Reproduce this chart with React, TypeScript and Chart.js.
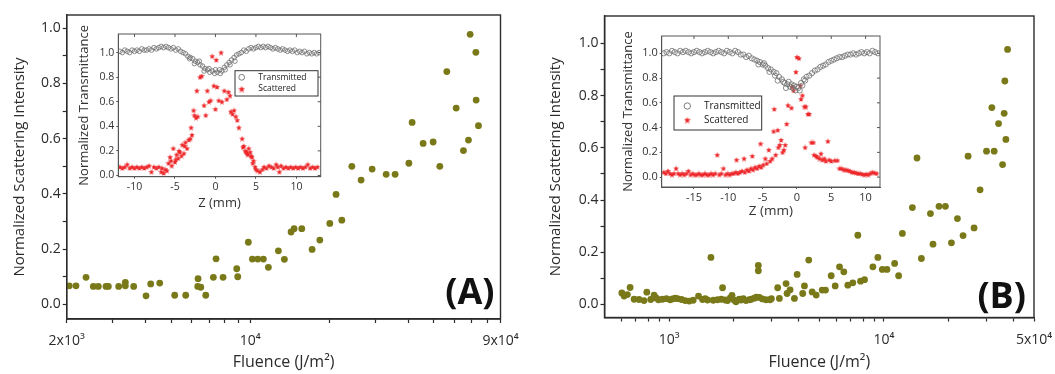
import React, { useEffect, useRef } from 'react';
import { Chart, registerables } from 'chart.js';

Chart.register(...registerables);

const FONT = '"Open Sans", "Liberation Sans", "DejaVu Sans", sans-serif';
const INK = '#2b2b2b';
const OLIVE = '#79791a';
const RED = '#ec2427';
const RING = '#6e6e6e';

// ---------------- Panel A : main scatter ----------------
const aFluence = [2046, 2170, 2370, 2526, 2640, 2824, 2882, 3156, 3346, 3346, 3600, 4012, 4180, 4524, 5160, 5684, 6334, 6316, 6486, 6776, 7244, 7418, 7888, 8894, 8972, 9846, 10200, 10694, 11234, 11740, 12818, 13510, 14328, 14712, 15736, 17228, 18436, 20124, 21260, 22360, 24420, 26484, 29180, 33000, 35700, 40280, 41440, 45640, 49840, 52840, 56200, 61000, 65020, 67940, 68960, 72500, 72680, 74180];
const aIntensity = [0.067, 0.067, 0.098, 0.065, 0.065, 0.065, 0.065, 0.065, 0.080, 0.067, 0.065, 0.031, 0.074, 0.077, 0.033, 0.033, 0.093, 0.065, 0.062, 0.033, 0.098, 0.165, 0.098, 0.129, 0.100, 0.225, 0.164, 0.164, 0.164, 0.134, 0.194, 0.163, 0.262, 0.274, 0.274, 0.199, 0.233, 0.293, 0.398, 0.305, 0.500, 0.450, 0.490, 0.471, 0.471, 0.511, 0.659, 0.583, 0.588, 0.500, 0.843, 0.711, 0.557, 0.595, 0.978, 0.913, 0.740, 0.647];
const aTickValues = [2000, 3000, 4000, 5000, 6000, 7000, 8000, 9000, 10000, 20000, 30000, 40000, 50000, 60000, 70000, 80000, 90000];
const aTickLabels = ['2x10³', '', '', '', '', '', '', '', '10⁴', '', '', '', '', '', '', '', '9x10⁴'];

// ---------------- Panel A : inset (z-scan) ----------------
const aInsetTransmitted: [number, number][] = [
  [-11.8, 1.01], [-11.5, 1.00], [-11.2, 1.02], [-10.9, 1.01], [-10.6, 1.00], [-10.3, 1.02], [-10.0, 1.01], [-9.7, 1.02], [-9.4, 1.01], [-9.1, 1.03],
  [-8.8, 1.02], [-8.5, 1.02], [-8.2, 1.03], [-7.9, 1.02], [-7.6, 1.04], [-7.3, 1.03], [-7.0, 1.04], [-6.7, 1.05], [-6.4, 1.04], [-6.1, 1.05],
  [-5.8, 1.04], [-5.5, 1.03], [-5.2, 1.04], [-4.9, 1.02], [-4.6, 1.03], [-4.3, 1.01], [-4.0, 1.00], [-3.7, 0.99], [-3.4, 0.97], [-3.1, 0.96],
  [-2.8, 0.95], [-2.5, 0.93], [-2.2, 0.92], [-1.9, 0.90], [-1.6, 0.89], [-1.3, 0.87], [-1.0, 0.86], [-0.7, 0.84], [-0.4, 0.85], [-0.1, 0.83],
  [0.2, 0.84], [0.5, 0.86], [0.8, 0.85], [1.1, 0.88], [1.4, 0.90], [1.7, 0.92], [2.0, 0.94], [2.3, 0.96], [2.6, 0.98], [2.9, 0.99],
  [3.2, 1.00], [3.5, 1.02], [3.8, 1.01], [4.1, 1.03], [4.4, 1.04], [4.7, 1.03], [5.0, 1.04], [5.3, 1.05], [5.6, 1.04], [5.9, 1.05],
  [6.2, 1.04], [6.5, 1.05], [6.8, 1.04], [7.1, 1.03], [7.4, 1.04], [7.7, 1.03], [8.0, 1.02], [8.3, 1.03], [8.6, 1.02], [8.9, 1.01],
  [9.2, 1.02], [9.5, 1.01], [9.8, 1.02], [10.1, 1.00], [10.4, 1.01], [10.7, 1.00], [11.0, 1.01], [11.3, 0.99], [11.6, 1.00], [11.9, 0.99],
  [12.2, 1.00], [12.5, 0.99], [12.8, 1.00],
  [-3.2, 0.95], [-2.6, 0.91], [-2.0, 0.93], [-1.4, 0.85], [-0.8, 0.87], [0.0, 0.86], [0.6, 0.83], [1.2, 0.86], [1.8, 0.90], [2.4, 0.93],
];
const aInsetScattered: [number, number][] = [
  [-11.8, 0.07], [-11.5, 0.06], [-11.2, 0.07], [-10.9, 0.09], [-10.6, 0.06], [-10.3, 0.07], [-10.0, 0.06], [-9.7, 0.07], [-9.4, 0.06], [-9.1, 0.07],
  [-8.8, 0.06], [-8.5, 0.07], [-8.2, 0.08], [-7.9, 0.03], [-7.6, 0.07], [-7.3, 0.06], [-7.0, 0.07], [-6.7, 0.03], [-6.4, 0.02], [-6.2, 0.05],
  [-6.0, 0.04], [-5.8, 0.10], [-5.6, 0.15], [-5.4, 0.08], [-5.2, 0.22], [-5.0, 0.11], [-4.8, 0.17], [-4.6, 0.14], [-4.4, 0.19], [-4.2, 0.16],
  [-4.1, 0.25], [-3.9, 0.18], [-3.7, 0.27], [-3.5, 0.22], [-3.3, 0.29], [-3.1, 0.30], [-3.0, 0.39], [-2.7, 0.53], [-2.6, 0.49], [-2.4, 0.47],
  [-2.2, 0.48], [-2.3, 0.69], [-1.9, 0.80], [-1.7, 0.81], [-1.4, 0.57], [-1.2, 0.49], [-1.0, 0.69], [-0.8, 0.60], [-0.6, 0.61], [-0.4, 0.97],
  [-0.2, 0.73], [0.0, 0.54], [0.1, 0.94], [0.2, 0.72], [0.4, 0.61], [0.7, 1.00], [0.8, 0.60], [1.1, 0.69], [1.4, 0.62], [1.6, 0.68],
  [1.8, 0.65], [2.1, 0.50], [2.3, 0.53], [2.5, 0.48], [2.9, 0.39], [3.3, 0.30], [3.4, 0.23], [3.7, 0.20], [3.9, 0.18], [4.1, 0.22],
  [4.3, 0.19], [4.5, 0.15], [4.7, 0.12], [4.9, 0.07], [5.2, 0.04], [5.5, 0.03], [5.8, 0.05], [6.0, 0.07], [6.3, 0.06], [6.6, 0.08],
  [6.9, 0.07], [7.2, 0.06], [7.5, 0.09], [7.7, 0.07], [7.9, 0.03], [8.1, 0.08], [8.4, 0.06], [8.7, 0.07], [9.0, 0.06], [9.3, 0.07],
  [9.6, 0.06], [9.9, 0.07], [10.2, 0.06], [10.5, 0.07], [10.8, 0.06], [11.1, 0.07], [11.4, 0.09], [11.7, 0.06], [12.0, 0.07], [12.3, 0.06],
  [12.6, 0.07],
  [-5.5, 0.12], [-4.9, 0.13], [-4.5, 0.20], [-3.8, 0.24], [-2.9, 0.33], [1.9, 0.52], [2.7, 0.45], [3.5, 0.24], [3.8, 0.19], [4.0, 0.17],
  [4.4, 0.16], [4.6, 0.10], [-6.6, 0.06], [5.0, 0.05],
];
const aInsetXTicks = [-10, -5, 0, 5, 10];

// ---------------- Panel B : main scatter ----------------
const bFluence = [602, 617, 639, 658, 687, 724, 764, 787, 821, 851, 870, 892, 930, 971, 1011, 1036, 1067, 1093, 1141, 1188, 1240, 1294, 1370, 1430, 1472, 1509, 1565, 1604, 1680, 1748, 1773, 1825, 1871, 1926, 1962, 2011, 2048, 2122, 2161, 2215, 2280, 2362, 2413, 2492, 2547, 2602, 2602, 2630, 2716, 2826, 2951, 2992, 3202, 3261, 3504, 3541, 3657, 3831, 3944, 4188, 4266, 4467, 4634, 4838, 5160, 5346, 5683, 5932, 6214, 6507, 6792, 7166, 7562, 7785, 8126, 8887, 9376, 9829, 10330, 11220, 11710, 12190, 13570, 14260, 14950, 16470, 16930, 18060, 19340, 20630, 22000, 23370, 24660, 26300, 28050, 30050, 32620, 31820, 34190, 35690, 36310, 36580, 36980, 37660];
const bIntensity = [0.044, 0.032, 0.038, 0.065, 0.020, 0.019, 0.015, 0.047, 0.019, 0.036, 0.025, 0.018, 0.020, 0.022, 0.018, 0.021, 0.024, 0.022, 0.019, 0.015, 0.013, 0.016, 0.032, 0.019, 0.022, 0.017, 0.180, 0.016, 0.018, 0.020, 0.064, 0.017, 0.015, 0.025, 0.035, 0.016, 0.010, 0.020, 0.017, 0.022, 0.015, 0.018, 0.020, 0.024, 0.028, 0.150, 0.129, 0.027, 0.021, 0.018, 0.018, 0.022, 0.064, 0.023, 0.080, 0.042, 0.056, 0.023, 0.115, 0.042, 0.071, 0.170, 0.048, 0.036, 0.055, 0.055, 0.110, 0.071, 0.144, 0.125, 0.074, 0.083, 0.265, 0.089, 0.095, 0.144, 0.180, 0.134, 0.134, 0.157, 0.110, 0.272, 0.371, 0.561, 0.176, 0.348, 0.231, 0.376, 0.376, 0.236, 0.329, 0.264, 0.568, 0.293, 0.439, 0.587, 0.587, 0.754, 0.693, 0.536, 0.732, 0.856, 0.632, 0.977];
const bTickValues = [600, 700, 800, 900, 1000, 2000, 3000, 4000, 5000, 6000, 7000, 8000, 9000, 10000, 20000, 30000, 40000, 50000];
const bTickLabels = ['', '', '', '', '10³', '', '', '', '', '', '', '', '', '10⁴', '', '', '', '5x10⁴'];

// ---------------- Panel B : inset (z-scan) ----------------
const bInsetTransmitted: [number, number][] = [
  [-19.4, 1.00], [-19.0, 1.01], [-18.6, 1.00], [-18.2, 1.02], [-17.8, 1.01], [-17.4, 1.00], [-17.0, 1.02], [-16.6, 1.01], [-16.2, 1.02], [-15.8, 1.01],
  [-15.4, 1.00], [-15.0, 1.01], [-14.6, 1.02], [-14.2, 1.01], [-13.8, 1.00], [-13.4, 1.01], [-13.0, 1.02], [-12.6, 1.01], [-12.2, 1.00], [-11.8, 1.01],
  [-11.4, 1.02], [-11.0, 1.01], [-10.6, 1.00], [-10.2, 1.02], [-9.8, 1.01], [-9.4, 1.00], [-9.0, 1.02], [-8.6, 1.01], [-8.2, 0.99], [-7.8, 0.99],
  [-7.4, 0.97], [-7.0, 0.98], [-6.6, 0.96], [-6.2, 0.95], [-5.8, 0.94], [-5.4, 0.93], [-5.0, 0.91], [-4.6, 0.90], [-4.2, 0.88], [-3.8, 0.87],
  [-3.4, 0.85], [-3.0, 0.84], [-2.6, 0.81], [-2.2, 0.79], [-1.8, 0.76], [-1.4, 0.75], [-1.0, 0.73], [-0.6, 0.72], [-0.2, 0.70], [0.2, 0.72],
  [0.6, 0.76], [1.0, 0.79], [1.4, 0.81], [1.8, 0.82], [2.2, 0.84], [2.6, 0.86], [3.0, 0.87], [3.4, 0.89], [3.8, 0.90], [4.2, 0.91],
  [4.6, 0.93], [5.0, 0.94], [5.4, 0.95], [5.8, 0.96], [6.2, 0.97], [6.6, 0.97], [7.0, 0.98], [7.4, 0.99], [7.8, 0.99], [8.2, 1.00],
  [8.6, 0.99], [9.0, 1.00], [9.4, 1.01], [9.8, 1.00], [10.2, 1.01], [10.6, 1.00], [11.0, 1.02], [11.4, 1.01], [11.8, 1.00],
  [-5.6, 0.91], [-4.8, 0.92], [-4.0, 0.85], [-3.2, 0.82], [-2.8, 0.78], [-2.0, 0.77], [-1.6, 0.72], [-1.2, 0.77], [-0.8, 0.75], [-0.4, 0.74],
  [0.0, 0.73], [0.4, 0.70], [0.8, 0.74], [1.2, 0.78],
];
const bInsetScattered: [number, number][] = [
  [-19.4, 0.04], [-19.1, 0.03], [-18.8, 0.05], [-18.5, 0.03], [-18.2, 0.02], [-17.9, 0.03], [-17.6, 0.07], [-17.3, 0.03], [-17.0, 0.02], [-16.7, 0.03],
  [-16.4, 0.02], [-16.1, 0.03], [-15.8, 0.05], [-15.5, 0.02], [-15.2, 0.03], [-14.9, 0.02], [-14.6, 0.02], [-14.3, 0.03], [-14.0, 0.02], [-13.7, 0.02],
  [-13.4, 0.03], [-13.1, 0.02], [-12.8, 0.02], [-12.5, 0.03], [-12.2, 0.02], [-11.9, 0.03], [-11.6, 0.18], [-11.3, 0.02], [-11.0, 0.03], [-10.7, 0.07],
  [-10.4, 0.02], [-10.1, 0.03], [-9.8, 0.02], [-9.5, 0.03], [-9.2, 0.03], [-8.9, 0.04], [-8.8, 0.14], [-8.6, 0.03], [-8.3, 0.04], [-8.0, 0.05],
  [-7.7, 0.15], [-7.6, 0.04], [-7.3, 0.06], [-7.0, 0.05], [-6.7, 0.07], [-6.5, 0.17], [-6.4, 0.06], [-6.1, 0.08], [-5.8, 0.07], [-5.5, 0.09],
  [-5.3, 0.27], [-5.2, 0.08], [-4.9, 0.10], [-4.6, 0.15], [-4.4, 0.11], [-4.1, 0.22], [-3.9, 0.13], [-3.6, 0.15], [-3.4, 0.37], [-3.3, 0.55],
  [-3.1, 0.18], [-2.8, 0.38], [-2.7, 0.24], [-2.5, 0.26], [-2.3, 0.30], [-2.1, 0.20], [-1.9, 0.22], [-1.7, 0.26], [-1.5, 0.43], [-1.3, 0.58],
  [-0.8, 0.56], [-0.7, 0.73], [-0.5, 0.70], [-0.15, 0.85], [0.0, 0.97], [0.3, 0.96], [0.5, 0.74], [0.6, 0.63], [0.8, 0.66], [1.1, 0.57],
  [1.3, 0.57], [1.2, 0.24], [1.6, 0.51], [1.8, 0.51], [2.1, 0.28], [2.4, 0.28], [2.5, 0.18], [2.8, 0.17], [3.0, 0.16], [3.3, 0.15],
  [3.5, 0.19], [3.7, 0.14], [4.0, 0.15], [4.2, 0.13], [4.5, 0.29], [4.7, 0.14], [5.0, 0.13], [5.5, 0.135], [5.9, 0.135], [6.2, 0.07],
  [6.5, 0.07], [6.8, 0.06], [7.1, 0.06], [7.4, 0.055], [7.7, 0.05], [8.0, 0.04], [8.3, 0.04], [8.6, 0.035], [8.9, 0.03], [9.2, 0.03],
  [9.5, 0.025], [9.8, 0.02], [10.1, 0.025], [10.4, 0.02], [10.7, 0.03], [11.0, 0.04], [11.3, 0.035], [11.6, 0.03],
];
const bInsetXTicks = [-15, -10, -5, 0, 5, 10];

// ---------------- shared tick lists ----------------
const mainYTicks = [0, 0.1, 0.2, 0.3, 0.4, 0.5, 0.6, 0.7, 0.8, 0.9, 1.0];
const mainYTickLabels = ['0.0', '', '0.2', '', '0.4', '', '0.6', '', '0.8', '', '1.0'];
const insetYTicks = [0, 0.2, 0.4, 0.6, 0.8, 1.0];
const insetYTickLabels = ['0.0', '0.2', '0.4', '0.6', '0.8', '1.0'];
const legendNames = ['Transmitted', 'Scattered'];

function starImage(size: number, color: string): HTMLCanvasElement {
  const c = document.createElement('canvas');
  c.width = size;
  c.height = size;
  const ctx = c.getContext('2d')!;
  ctx.fillStyle = color;
  ctx.beginPath();
  const cx = size / 2, cy = size / 2 + 0.3, R = size / 2, r = R * 0.45;
  for (let i = 0; i < 10; i++) {
    const ang = -Math.PI / 2 + (i * Math.PI) / 5;
    const rad = i % 2 === 0 ? R : r;
    ctx.lineTo(cx + rad * Math.cos(ang), cy + rad * Math.sin(ang));
  }
  ctx.closePath();
  ctx.fill();
  return c;
}

function framePlugin(color: string, lw: number) {
  return {
    id: 'frameBox',
    afterDraw(chart: any) {
      const { ctx, chartArea: a } = chart;
      ctx.save();
      ctx.strokeStyle = color;
      ctx.lineWidth = lw;
      ctx.strokeRect(a.left, a.top, a.right - a.left, a.bottom - a.top);
      ctx.restore();
    },
  };
}

function panelLabelPlugin(text: string, dx: number, dy: number) {
  return {
    id: 'panelLabel',
    afterDraw(chart: any) {
      const { ctx, chartArea: a } = chart;
      ctx.save();
      ctx.font = `bold 36px ${FONT}`;
      ctx.fillStyle = '#111';
      ctx.textAlign = 'right';
      ctx.textBaseline = 'alphabetic';
      ctx.fillText(text, a.right + dx, a.bottom + dy);
      ctx.restore();
    },
  };
}

type MainParams = {
  xs: number[]; ys: number[]; xMin: number; xMax: number;
  xTicks: number[]; xLabels: string[];
  yMin: number; yMax: number;
  axisW: number; axisH: number; padTop: number; padRight: number; yTitlePad: number;
  label: string; labelDx: number; labelDy: number;
};

function buildMain(p: MainParams): any {
  const data = p.xs.map((x, i) => ({ x, y: p.ys[i] }));
  return {
    type: 'scatter',
    data: {
      datasets: [{
        data,
        pointRadius: 3.4,
        pointHoverRadius: 3.4,
        backgroundColor: OLIVE,
        borderColor: OLIVE,
        borderWidth: 0,
      }],
    },
    options: {
      responsive: false,
      animation: false,
      devicePixelRatio: 1,
      layout: { padding: { left: 0, top: p.padTop, right: p.padRight, bottom: 0 } },
      plugins: { legend: { display: false }, tooltip: { enabled: false } },
      scales: {
        x: {
          type: 'logarithmic',
          min: p.xMin,
          max: p.xMax,
          afterBuildTicks: (s: any) => { s.ticks = p.xTicks.map((v) => ({ value: v })); },
          afterFit: (s: any) => { s.height = p.axisH; },
          ticks: {
            autoSkip: false, maxRotation: 0, minRotation: 0, padding: 10, color: INK,
            font: { family: FONT, size: 14 },
            callback: (_v: any, i: number) => p.xLabels[i],
          },
          grid: { drawOnChartArea: false, drawTicks: true, tickLength: 4, tickColor: INK, tickWidth: 1.2 },
          border: { display: true, color: INK, width: 1.4 },
          title: {
            display: true, text: 'Fluence (J/m²)', color: INK,
            font: { family: FONT, size: 16 }, padding: { top: 0, bottom: 2.4 },
          },
        },
        y: {
          type: 'linear',
          min: p.yMin,
          max: p.yMax,
          afterBuildTicks: (s: any) => { s.ticks = mainYTicks.map((v) => ({ value: v })); },
          afterFit: (s: any) => { s.width = p.axisW; },
          ticks: {
            autoSkip: false, padding: 2, color: INK,
            font: { family: FONT, size: 14 },
            callback: (_v: any, i: number) => mainYTickLabels[i],
          },
          grid: { drawOnChartArea: false, drawTicks: true, tickLength: 4, tickColor: INK, tickWidth: 1.2 },
          border: { display: true, color: INK, width: 1.4 },
          title: {
            display: true, text: 'Normalized Scattering Intensity', color: INK,
            font: { family: FONT, size: 15 }, padding: { top: p.yTitlePad, bottom: 0 },
          },
        },
      },
    },
    plugins: [framePlugin(INK, 1.4), panelLabelPlugin(p.label, p.labelDx, p.labelDy)],
  };
}

type InsetParams = {
  trans: [number, number][]; scat: [number, number][];
  xMin: number; xMax: number; xTicks: number[];
  yMin: number; yMax: number;
  axisW: number; axisH: number; padTop: number; padRight: number;
  yTitlePad: number; xTitlePad: number;
  tickFont: number; titleFont: number;
  starSize: number; ringR: number;
  legend: { fromRight: boolean; dx: number; dy: number; w: number; h: number; row1: number; row2: number; symX: number; textX: number; font: number };
};

function buildInset(p: InsetParams): any {
  const star = starImage(p.starSize, RED);
  const lg = p.legend;
  const decor = {
    id: 'insetDecor',
    beforeDraw(chart: any) {
      const { ctx, chartArea: a } = chart;
      ctx.save();
      ctx.fillStyle = '#ffffff';
      ctx.fillRect(a.left, a.top, a.right - a.left, a.bottom - a.top);
      ctx.restore();
    },
    afterDraw(chart: any) {
      const { ctx, chartArea: a, scales } = chart;
      ctx.save();
      ctx.strokeStyle = '#555';
      ctx.lineWidth = 1;
      ctx.strokeRect(a.left, a.top, a.right - a.left, a.bottom - a.top);
      ctx.beginPath();
      for (const t of scales.y.ticks) {
        const py = scales.y.getPixelForValue(t.value);
        ctx.moveTo(a.right, py);
        ctx.lineTo(a.right - 3, py);
      }
      for (const t of scales.x.ticks) {
        const px = scales.x.getPixelForValue(t.value);
        ctx.moveTo(px, a.top);
        ctx.lineTo(px, a.top + 3);
      }
      ctx.stroke();
      const bx = lg.fromRight ? a.right - lg.dx - lg.w : a.left + lg.dx;
      const by = a.top + lg.dy;
      ctx.fillStyle = '#fff';
      ctx.fillRect(bx, by, lg.w, lg.h);
      ctx.strokeStyle = '#333';
      ctx.lineWidth = 1;
      ctx.strokeRect(bx, by, lg.w, lg.h);
      ctx.beginPath();
      ctx.arc(bx + lg.symX, by + lg.row1, p.ringR + 0.6, 0, Math.PI * 2);
      ctx.strokeStyle = RING;
      ctx.lineWidth = 0.9;
      ctx.stroke();
      const ss = p.starSize + 1;
      ctx.drawImage(star, bx + lg.symX - ss / 2, by + lg.row2 - ss / 2, ss, ss);
      ctx.fillStyle = '#222';
      ctx.font = `${lg.font}px ${FONT}`;
      ctx.textAlign = 'left';
      ctx.textBaseline = 'middle';
      ctx.fillText(legendNames[0], bx + lg.textX, by + lg.row1);
      ctx.fillText(legendNames[1], bx + lg.textX, by + lg.row2);
      ctx.restore();
    },
  };
  return {
    type: 'scatter',
    data: {
      datasets: [
        {
          label: legendNames[0],
          data: p.trans.map(([x, y]) => ({ x, y })),
          pointStyle: 'circle',
          pointRadius: p.ringR,
          pointHoverRadius: p.ringR,
          backgroundColor: 'rgba(255,255,255,0)',
          borderColor: RING,
          borderWidth: 0.8,
        },
        {
          label: legendNames[1],
          data: p.scat.map(([x, y]) => ({ x, y })),
          pointStyle: star,
          pointRadius: p.starSize / 2,
          backgroundColor: RED,
          borderColor: RED,
        },
      ],
    },
    options: {
      responsive: false,
      animation: false,
      devicePixelRatio: 1,
      layout: { padding: { left: 0, top: p.padTop, right: p.padRight, bottom: 0 } },
      plugins: { legend: { display: false }, tooltip: { enabled: false } },
      scales: {
        x: {
          type: 'linear',
          min: p.xMin,
          max: p.xMax,
          afterBuildTicks: (s: any) => { s.ticks = p.xTicks.map((v) => ({ value: v })); },
          afterFit: (s: any) => { s.height = p.axisH; },
          ticks: {
            autoSkip: false, maxRotation: 0, padding: 2, color: '#333',
            font: { family: FONT, size: p.tickFont },
            callback: (v: any) => String(v),
          },
          grid: { drawOnChartArea: false, drawTicks: true, tickLength: 2, tickColor: '#555' },
          border: { display: true, color: '#555', width: 1 },
          title: {
            display: true, text: 'Z (mm)', color: '#333',
            font: { family: FONT, size: p.titleFont }, padding: { top: 0, bottom: p.xTitlePad },
          },
        },
        y: {
          type: 'linear',
          min: p.yMin,
          max: p.yMax,
          afterBuildTicks: (s: any) => { s.ticks = insetYTicks.map((v) => ({ value: v })); },
          afterFit: (s: any) => { s.width = p.axisW; },
          ticks: {
            autoSkip: false, padding: 2, color: '#333',
            font: { family: FONT, size: p.tickFont },
            callback: (_v: any, i: number) => insetYTickLabels[i],
          },
          grid: { drawOnChartArea: false, drawTicks: true, tickLength: 2, tickColor: '#555' },
          border: { display: true, color: '#555', width: 1 },
          title: {
            display: true, text: 'Normalized Transmittance', color: '#333',
            font: { family: FONT, size: 13 }, padding: { top: p.yTitlePad, bottom: 0 },
          },
        },
      },
    },
    plugins: [decor],
  };
}

function ChartBox(props: { left: number; top: number; width: number; height: number; build: () => any }) {
  const ref = useRef<HTMLCanvasElement>(null);
  useEffect(() => {
    const chart = new Chart(ref.current as HTMLCanvasElement, props.build());
    return () => chart.destroy();
  }, []);
  return (
    <canvas
      ref={ref}
      width={props.width}
      height={props.height}
      style={{ position: 'absolute', left: props.left, top: props.top, width: props.width, height: props.height }}
    />
  );
}

const buildMainA = () => buildMain({
  xs: aFluence, ys: aIntensity, xMin: 2000, xMax: 90000,
  xTicks: aTickValues, xLabels: aTickLabels,
  yMin: -0.053, yMax: 1.048,
  axisW: 66.7, axisH: 55, padTop: 15, padRight: 29.5, yTitlePad: 11,
  label: '(A)', labelDx: -6, labelDy: -15,
});

const buildMainB = () => buildMain({
  xs: bFluence, ys: bIntensity, xMin: 500, xMax: 50000,
  xTicks: bTickValues, xLabels: bTickLabels,
  yMin: -0.05, yMax: 1.105,
  axisW: 74.5, axisH: 56.5, padTop: 16, padRight: 41, yTitlePad: 17,
  label: '(B)', labelDx: -8, labelDy: -10,
});

const buildInsetA = () => buildInset({
  trans: aInsetTransmitted, scat: aInsetScattered,
  xMin: -12, xMax: 13, xTicks: aInsetXTicks,
  yMin: -0.01, yMax: 1.151,
  axisW: 48.3, axisH: 41.3, padTop: 14, padRight: 11.3,
  yTitlePad: 6.2, xTitlePad: 7.1,
  tickFont: 10.5, titleFont: 13,
  starSize: 6, ringR: 2.3,
  legend: { fromRight: true, dx: 2.7, dy: 36.7, w: 83, h: 25.3, row1: 6.6, row2: 18.3, symX: 6.7, textX: 23.3, font: 8.5 },
});

const buildInsetB = () => buildInset({
  trans: bInsetTransmitted, scat: bInsetScattered,
  xMin: -19.7, xMax: 12.1, xTicks: bInsetXTicks,
  yMin: -0.08, yMax: 1.14,
  axisW: 49.7, axisH: 43, padTop: 14, padRight: 12,
  yTitlePad: 8.2, xTitlePad: 10.5,
  tickFont: 11, titleFont: 13.5,
  starSize: 6, ringR: 2.6,
  legend: { fromRight: false, dx: 12.3, dy: 60, w: 87.7, h: 34, row1: 10, row2: 24, symX: 13.3, textX: 30, font: 10 },
});

export default function App() {
  return (
    <div style={{ position: 'fixed', left: 0, top: 0, width: 1055, height: 374, overflow: 'hidden', background: '#ffffff' }}>
      <ChartBox left={0} top={0} width={530} height={374} build={buildMainA} />
      <ChartBox left={530} top={0} width={545} height={374} build={buildMainB} />
      <ChartBox left={70} top={20} width={262} height={198} build={buildInsetA} />
      <ChartBox left={612} top={22} width={280} height={208} build={buildInsetB} />
    </div>
  );
}
